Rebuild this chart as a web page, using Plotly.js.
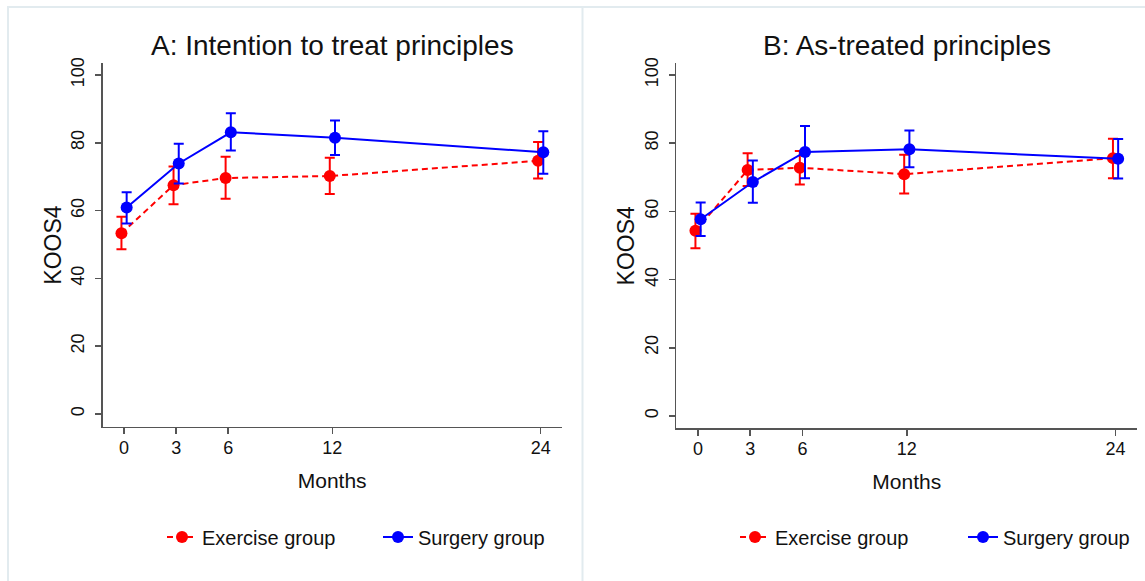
<!DOCTYPE html>
<html>
<head>
<meta charset="utf-8">
<script src="https://cdn.plot.ly/plotly-3.0.1.min.js"></script>
<style>html,body{margin:0;padding:0;background:#fff;}#chart{width:1145px;height:581px;}</style>
</head>
<body>
<div id="chart"></div>
<script>
// ---- data ----
const months = [0, 3, 6, 12, 24];
const yTicks = [0, 20, 40, 60, 80, 100];

// Panel A: intention to treat
const exerciseA    = [53.3, 67.5, 69.6, 70.2, 74.7];
const exerciseA_hi = [58.2, 73.0, 75.9, 75.6, 80.2];
const exerciseA_lo = [48.6, 61.9, 63.5, 64.9, 69.5];
const surgeryA     = [60.9, 73.9, 83.1, 81.5, 77.2];
const surgeryA_hi  = [65.4, 79.7, 88.7, 86.6, 83.4];
const surgeryA_lo  = [56.2, 68.0, 77.7, 76.4, 70.9];

// Panel B: as-treated
const exerciseB    = [54.3, 72.1, 72.8, 70.9, 75.6];
const exerciseB_hi = [59.3, 77.0, 77.7, 76.6, 81.3];
const exerciseB_lo = [49.2, 67.4, 67.9, 65.2, 69.7];
const surgeryB     = [57.7, 68.6, 77.4, 78.2, 75.4];
const surgeryB_hi  = [62.6, 74.9, 85.0, 83.7, 81.2];
const surgeryB_lo  = [52.8, 62.5, 69.7, 72.9, 69.6];

const titleA = 'A: Intention to treat principles';
const titleB = 'B: As-treated principles';
const nameEx = 'Exercise group';
const nameSu = 'Surgery group';

// ---- styling ----
const FONT = 'Liberation Sans, Arial, Helvetica, sans-serif';
const RED = '#ff0000', BLUE = '#0000ff';
const SHIFT = 0.15;

function trace(name, y, hi, lo, color, dash, xa, ya, legend, shift) {
  return {
    type: 'scatter', mode: 'lines+markers', name: name,
    x: months.map(m => m + shift), y: y,
    xaxis: xa, yaxis: ya, legend: legend,
    line: {color: color, width: 2, dash: dash},
    marker: {color: color, size: 12, symbol: 'circle'},
    error_y: {type: 'data', symmetric: false,
      array: hi.map((v, i) => v - y[i]),
      arrayminus: lo.map((v, i) => y[i] - v),
      color: color, thickness: 2, width: 5},
    hoverinfo: 'skip'
  };
}

const data = [
  trace(nameEx, exerciseA, exerciseA_hi, exerciseA_lo, RED, '6px,4px', 'x', 'y', 'legend', -SHIFT),
  trace(nameSu, surgeryA, surgeryA_hi, surgeryA_lo, BLUE, 'solid', 'x', 'y', 'legend2', SHIFT),
  trace(nameEx, exerciseB, exerciseB_hi, exerciseB_lo, RED, '6px,4px', 'x2', 'y2', 'legend3', -SHIFT),
  trace(nameSu, surgeryB, surgeryB_hi, surgeryB_lo, BLUE, 'solid', 'x2', 'y2', 'legend4', SHIFT)
];

const W = 1145, H = 581;
const axCommon = {
  showline: true, linecolor: '#555', linewidth: 1.5,
  ticks: 'outside', ticklen: 6, tickwidth: 1.5, tickcolor: '#555',
  showgrid: false, zeroline: false,
  tickfont: {family: FONT, size: 18, color: '#111'}
};
function xAxis(domain, range, anchor) {
  return Object.assign({}, axCommon, {
    domain: domain, range: range, anchor: anchor,
    tickmode: 'array', tickvals: months,
    ticklabelstandoff: -2,
    title: {text: 'Months', font: {family: FONT, size: 21, color: '#111'}, standoff: 16}
  });
}
function yAxis(domain, range, anchor) {
  return Object.assign({}, axCommon, {
    domain: domain, range: range, anchor: anchor,
    tickmode: 'array', tickvals: yTicks, tickangle: -90,
    ticklabelstandoff: 4,
    title: {text: 'KOOS4', font: {family: FONT, size: 23, color: '#111'}, standoff: 0}
  });
}

const dA = [102.7 / W, 561.7 / W];
const dB = [676.3 / W, 1137.3 / W];
const legendStyle = {
  orientation: 'h', xanchor: 'left', yanchor: 'middle',
  y: (H - 537) / H, bgcolor: 'rgba(0,0,0,0)', borderwidth: 0,
  font: {family: FONT, size: 20, color: '#111'}
};
const legendAt = px => Object.assign({}, legendStyle, {x: (px - 40) / W});

const layout = {
  width: W, height: H,
  margin: {l: 0, r: 0, t: 0, b: 0},
  paper_bgcolor: '#fff', plot_bgcolor: '#fff',
  font: {family: FONT, color: '#111'},
  xaxis: xAxis(dA, [-1.23, 25.21], 'y'),
  yaxis: yAxis([(H - 426.7) / H, (H - 63.3) / H], [-3.75, 103.45], 'x'),
  xaxis2: xAxis(dB, [-1.25, 25.25], 'y2'),
  yaxis2: yAxis([(H - 428.3) / H, (H - 63.3) / H], [-3.6, 103.4], 'x2'),
  legend: legendAt(202),
  legend2: legendAt(418),
  legend3: legendAt(775),
  legend4: legendAt(1003),
  annotations: [
    {text: titleA, xref: 'paper', yref: 'paper', x: (dA[0] + dA[1]) / 2, y: (H - 45) / H,
     showarrow: false, xanchor: 'center', yanchor: 'middle', font: {family: FONT, size: 28, color: '#111'}},
    {text: titleB, xref: 'paper', yref: 'paper', x: (dB[0] + dB[1]) / 2, y: (H - 45) / H,
     showarrow: false, xanchor: 'center', yanchor: 'middle', font: {family: FONT, size: 28, color: '#111'}}
  ],
  shapes: [
    {type: 'rect', xref: 'paper', yref: 'paper', x0: 8 / W, x1: 1.01, y0: -0.01, y1: (H - 7) / H,
     line: {color: '#e2ebef', width: 2}, layer: 'below'},
    {type: 'line', xref: 'paper', yref: 'paper', x0: 582.5 / W, x1: 582.5 / W, y0: 0, y1: (H - 7) / H,
     line: {color: '#e2ebef', width: 2}, layer: 'below'}
  ],
  showlegend: true
};

Plotly.newPlot('chart', data, layout, {displayModeBar: false, staticPlot: true});
</script>
</body>
</html>
